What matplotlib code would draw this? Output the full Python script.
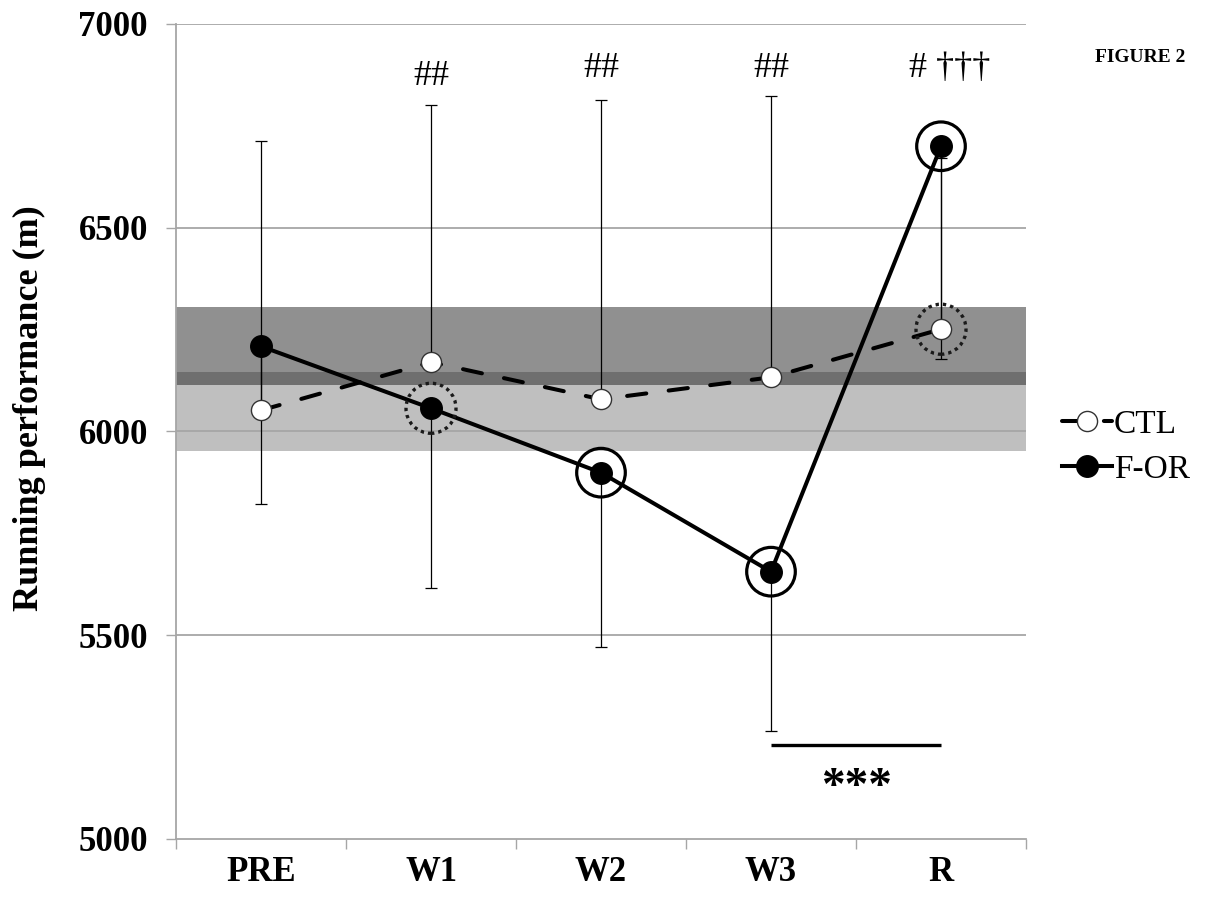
import matplotlib
matplotlib.use("Agg")
import matplotlib.pyplot as plt
from matplotlib.lines import Line2D
from matplotlib.ticker import FixedLocator, NullFormatter

plt.rcParams["font.family"] = ["Liberation Serif", "DejaVu Serif"]

# Time points and group data (mean, with one-sided SD bars)
times = ["PRE", "W1", "W2", "W3", "R"]
ctl_mean = [6052, 6170, 6079, 6133, 6251]
ctl_sd_up = [661, 631, 734, 690, 420]
for_mean = [6209, 6057, 5899, 5656, 6700]
for_sd_down = [388, 440, 427, 391, 521]

# Reference bands around each group's PRE value
ctl_band = (5953, 6147)
for_band = (6113, 6305)

# Significance flags
for_ring_solid = [2, 3, 4]   # indices circled with a solid ring (F-OR)
for_ring_dotted = [1]        # indices circled with a dotted ring (F-OR)
ctl_ring_dotted = [4]        # indices circled with a dotted ring (CTL)
top_marks = ["", "##", "##", "##", "# \u2020\u2020\u2020"]
top_marks_y = [0, 6870, 6890, 6890, 6890]
bracket = (3, 4, 5230)
bracket_label = "***"

W, H = 1214, 897
fig = plt.figure(figsize=(W / 100, H / 100), dpi=100)
ax = fig.add_axes([176 / W, 1 - 839 / H, 850 / W, (839 - 24) / H])

x = list(range(len(times)))
ax.set_xlim(-0.5, len(times) - 0.5)
ax.set_ylim(5000, 7000)

grid_c = "#a6a6a6"
# bands
ax.axhspan(ctl_band[0], ctl_band[1], color="#bfbfbf", lw=0, zorder=0)
ax.axhspan(for_band[0], for_band[1], color="#909090", lw=0, zorder=0)
ax.axhspan(max(ctl_band[0], for_band[0]), min(ctl_band[1], for_band[1]),
           color="#6f6f6f", lw=0, zorder=0.1)

# gridlines
for yv in [5500, 6000, 6500, 7000]:
    ax.axhline(yv, color=grid_c, lw=1.3, zorder=0.5)

for s in ["top", "right"]:
    ax.spines[s].set_visible(False)
for s in ["left", "bottom"]:
    ax.spines[s].set_color(grid_c)
    ax.spines[s].set_linewidth(1.3)

# error bars: CTL upward, F-OR downward
ax.errorbar(x, ctl_mean, yerr=[[0] * 5, ctl_sd_up], fmt="none", ecolor="black",
            elinewidth=0.9, capsize=4, capthick=0.9, zorder=1)
ax.errorbar(x, for_mean, yerr=[for_sd_down, [0] * 5], fmt="none", ecolor="black",
            elinewidth=0.9, capsize=4, capthick=0.9, zorder=1)

# group lines
ctl_style = dict(color="black", lw=2.9, linestyle=(0, (4.8, 5.6)),
                 dash_capstyle="round", marker="o", markersize=14.5,
                 markerfacecolor="white", markeredgecolor="#333333",
                 markeredgewidth=1.0)
for_style = dict(color="black", lw=2.9, marker="o", markersize=15.5,
                 markerfacecolor="black", markeredgecolor="black")
ax.plot(x, ctl_mean, zorder=3, **ctl_style)
ax.plot(x, for_mean, zorder=4, **for_style)

# significance rings
ax.scatter([x[i] for i in for_ring_solid], [for_mean[i] for i in for_ring_solid],
           s=35 ** 2, facecolors="none", edgecolors="black", linewidths=2.3, zorder=5)
ax.scatter([x[i] for i in for_ring_dotted], [for_mean[i] for i in for_ring_dotted],
           s=36 ** 2, facecolors="none", edgecolors="#1a1a1a", linewidths=2.4,
           linestyles=(0, (1, 1.2)), zorder=5)
ax.scatter([x[i] for i in ctl_ring_dotted], [ctl_mean[i] for i in ctl_ring_dotted],
           s=36 ** 2, facecolors="none", edgecolors="#1a1a1a", linewidths=2.4,
           linestyles=(0, (1, 1.2)), zorder=5)

# annotations above the points
for i, t in enumerate(top_marks):
    if t:
        ax.text(x[i] + (0.05 if i == 4 else 0), top_marks_y[i], t, ha="center",
                va="center", fontsize=26, zorder=6)

ax.plot([bracket[0], bracket[1]], [bracket[2], bracket[2]], color="black", lw=2.4,
        solid_capstyle="butt", zorder=6)
ax.text((bracket[0] + bracket[1]) / 2, 5125, bracket_label, ha="center",
        va="center", fontsize=34, fontweight="bold", zorder=6)

# axes ticks
ax.set_yticks([5000, 5500, 6000, 6500, 7000])
ax.set_yticklabels(["5000", "5500", "6000", "6500", "7000"], fontsize=25,
                   fontweight="bold")
ax.tick_params(axis="y", length=7.2, width=1.0, color=grid_c, pad=13)
ax.set_xticks(x)
ax.set_xticklabels(times, fontsize=25, fontweight="bold")
ax.tick_params(axis="x", which="major", length=0, pad=12.5)
ax.xaxis.set_minor_locator(FixedLocator([i - 0.5 for i in range(len(times) + 1)]))
ax.xaxis.set_minor_formatter(NullFormatter())
ax.tick_params(axis="x", which="minor", length=7.2, width=1.0, color=grid_c)

fig.text(29 / W, 1 - 408 / H, "Running performance (m)", rotation=90,
         ha="center", va="center", fontsize=26, fontweight="bold")
fig.text(1140 / W, 1 - 58 / H, "FIGURE 2", ha="center", va="center",
         fontsize=14, fontweight="bold")

handles = [Line2D([], [], **ctl_style), Line2D([], [], **for_style)]
fig.legend(handles, ["CTL", "F-OR"], loc="center left",
           bbox_to_anchor=(1062 / W, 1 - 447 / H), frameon=False, fontsize=24,
           handlelength=1.5, handletextpad=0.05, labelspacing=0.45,
           borderpad=0, borderaxespad=0)

fig.savefig("out.png", dpi=100)
